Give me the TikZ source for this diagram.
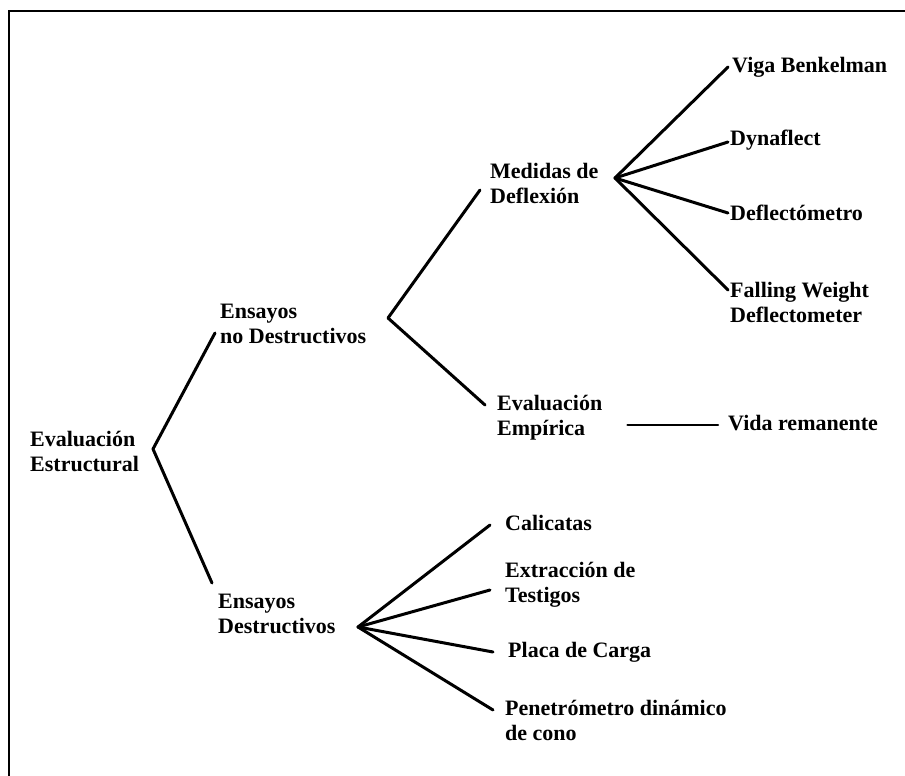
\documentclass[tikz,border=0pt]{standalone}
\usepackage{fontspec}
\setmainfont{Liberation Serif}
\usetikzlibrary{calc}

\begin{document}
\begin{tikzpicture}[
    x=1pt, y=-1pt,
    item/.style={anchor=west, align=left, inner sep=0pt,
                 font=\bfseries\fontsize{22}{25}\selectfont},
    branch/.style={line width=3pt, line cap=round, line join=round}
  ]
  \useasboundingbox (0,0) rectangle (905,776);

  % Frame (only top and left edges show)
  \draw[line width=2.5pt] (9,776) -- (9,11) -- (905,11);

  % Level 0
  \node[item] (root) at (30,451) {Evaluación\\Estructural};
  \coordinate (broot) at (153,449);

  % Level 1
  \node[item] (nd) at (220,324) {Ensayos\\no Destructivos};
  \node[item] (d) at (218,614) {Ensayos\\Destructivos};
  \coordinate (bnd) at (388,318);
  \coordinate (bd) at (358,627);

  % Level 2
  \node[item] (med) at (490,183) {Medidas de\\Deflexión};
  \node[item] (emp) at (497,418) {Evaluación\\Empírica};
  \coordinate (bmed) at (615,178);

  % Level 3
  \foreach \n/\x/\y/\t in {viga/732/67/{Viga Benkelman},
      dyna/730/140/{Dynaflect}, defl/730/213/{Deflectómetro},
      fwd/730/302/{Falling Weight\\Deflectometer},
      vida/728/423/{Vida remanente}, cal/505/523/{Calicatas},
      ext/505/585/{Extracción de\\Testigos}, placa/508/652/{Placa de Carga},
      pen/505/720/{Penetrómetro dinámico\\de cono}} {
    \node[item] (\n) at (\x,\y) {\t};
  }

  % Connectors
  \draw[branch] ($(nd.west)+(-5,9)$) -- (broot) -- ($(d.west)+(-6,-31)$);
  \draw[branch] ($(med.west)+(-10,7)$) -- (bnd) -- ($(emp.west)+(-12,-13)$);
  \foreach \n/\dx/\dy in {viga/-4/0, dyna/-2/2, defl/-2/0, fwd/-2/-12} {
    \draw[branch] (bmed) -- ($(\n.west)+(\dx,\dy)$);
  }
  \foreach \n/\dx/\dy in {cal/-15/2, ext/-15/5, placa/-15/0, pen/-12/-10} {
    \draw[branch] (bd) -- ($(\n.west)+(\dx,\dy)$);
  }
  \draw[branch, line width=2.4pt] ($(emp.east)+(25,7)$) -- ($(vida.west)+(-10,2)$);
\end{tikzpicture}
\end{document}
